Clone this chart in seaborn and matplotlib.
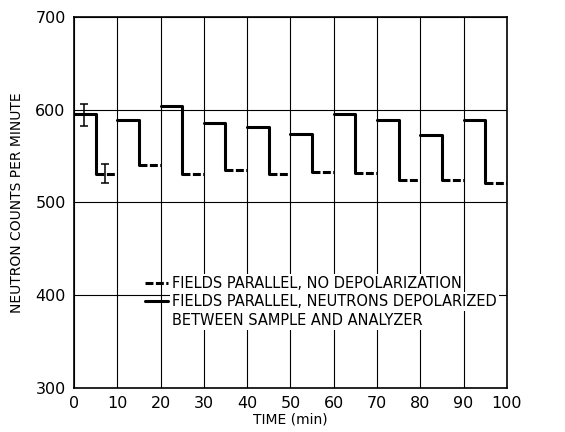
import numpy as np
import pandas as pd
import matplotlib
matplotlib.use("Agg")
import matplotlib.pyplot as plt
import seaborn as sns
from matplotlib.lines import Line2D

# cycle start times (min); each cycle = 5 min depolarized + 5 min not depolarized
cycle_start = [0, 10, 20, 30, 40, 50, 60, 70, 80, 90]
depolarized = [595, 589, 604, 586, 581, 574, 595, 589, 573, 589]
no_depol = [531, 540, 531, 535, 531, 533, 532, 524, 524, 521]

err_time = [2.3, 7.2]
err_counts = [594, 531]
err_size = [12, 10]

legend_labels = ["FIELDS PARALLEL, NO DEPOLARIZATION",
                 "FIELDS PARALLEL, NEUTRONS DEPOLARIZED",
                 "BETWEEN SAMPLE AND ANALYZER"]

# long-form tables: solid = high half-cycle + drop, dashed = low half-cycle
solid_rows, dash_rows = [], []
for i, t0 in enumerate(cycle_start):
    solid_rows += [(i, t0, depolarized[i]), (i, t0 + 5, depolarized[i]), (i, t0 + 5, no_depol[i])]
    dash_rows += [(i, t0 + 5, no_depol[i]), (i, t0 + 10, no_depol[i])]
solid = pd.DataFrame(solid_rows, columns=["cycle", "time", "counts"])
dashed = pd.DataFrame(dash_rows, columns=["cycle", "time", "counts"])

sns.set_style("white")
plt.rcParams["font.family"] = ["DejaVu Sans"]
plt.rcParams.update({"text.color": "black", "axes.labelcolor": "black",
                     "xtick.color": "black", "ytick.color": "black"})

fig = plt.figure(figsize=(5.65, 4.32), dpi=100)
ax = fig.add_axes([0.131, 0.102, 0.766, 0.859])

DASH = (2.6, 0.8)
sns.lineplot(data=solid, x="time", y="counts", units="cycle", estimator=None,
             sort=False, color="black", lw=2.2, ax=ax, zorder=3)
sns.lineplot(data=dashed, x="time", y="counts", units="cycle", estimator=None,
             sort=False, color="black", lw=2.2, ax=ax, zorder=3)
for line in ax.lines[len(cycle_start):]:
    line.set_dashes(DASH)

ax.errorbar(err_time, err_counts, yerr=err_size, fmt="none", ecolor="black",
            elinewidth=1.1, capsize=3, capthick=1.1, zorder=4)

ax.set_xlim(0, 100)
ax.set_ylim(300, 700)
ax.set_xticks(range(0, 101, 10))
ax.set_yticks([300, 400, 500, 600, 700])
ax.grid(True, color="black", lw=0.8)
ax.tick_params(length=0, labelsize=11.5, pad=6)
for s in ax.spines.values():
    s.set_color("black")
    s.set_linewidth(1.2)

ax.set_xlabel("TIME (min)", fontsize=10, labelpad=1)
ax.set_ylabel("NEUTRON COUNTS PER MINUTE", fontsize=10, labelpad=8)

handles = [Line2D([], [], color="black", lw=2.2, dashes=DASH),
           Line2D([], [], color="black", lw=2.2),
           Line2D([], [], color="none")]
leg = ax.legend(handles, legend_labels, loc="upper left", bbox_to_anchor=(0.15, 0.318),
                frameon=False, fontsize=10.5, handlelength=1.6, handletextpad=0.3,
                labelspacing=0.25, borderaxespad=0)
leg.set_zorder(5)
for txt in leg.get_texts():
    txt.set_color("black")
    txt.set_bbox(dict(facecolor="white", edgecolor="none", pad=1.5))

fig.savefig("out.png", dpi=100)
